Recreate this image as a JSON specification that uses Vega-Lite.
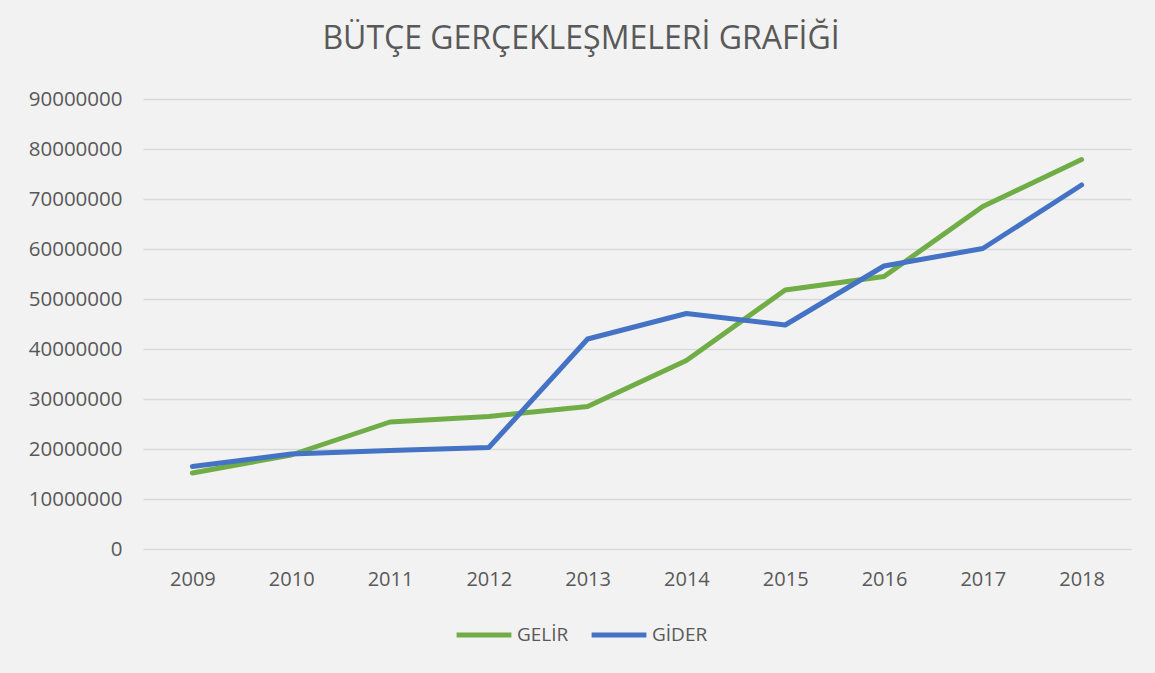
{
  "$schema": "https://vega.github.io/schema/vega-lite/v6.json",
  "autosize": "none",
  "width": 988,
  "height": 450,
  "padding": {"left": 143, "top": 99, "right": 24, "bottom": 124},
  "background": "#f2f2f2",
  "title": {
    "text": "BÜTÇE GERÇEKLEŞMELERİ GRAFİĞİ",
    "font": "Open Sans",
    "fontSize": 32,
    "fontWeight": "normal",
    "color": "#595959",
    "frame": "group",
    "anchor": "middle",
    "dx": -56,
    "baseline": "alphabetic",
    "offset": 8
  },
  "data": {
    "values": [
      {"yil": "2009", "seri": "GELİR", "deger": 15200000},
      {"yil": "2010", "seri": "GELİR", "deger": 18800000},
      {"yil": "2011", "seri": "GELİR", "deger": 25400000},
      {"yil": "2012", "seri": "GELİR", "deger": 26500000},
      {"yil": "2013", "seri": "GELİR", "deger": 28500000},
      {"yil": "2014", "seri": "GELİR", "deger": 37700000},
      {"yil": "2015", "seri": "GELİR", "deger": 51800000},
      {"yil": "2016", "seri": "GELİR", "deger": 54500000},
      {"yil": "2017", "seri": "GELİR", "deger": 68500000},
      {"yil": "2018", "seri": "GELİR", "deger": 77900000},
      {"yil": "2009", "seri": "GİDER", "deger": 16500000},
      {"yil": "2010", "seri": "GİDER", "deger": 19000000},
      {"yil": "2011", "seri": "GİDER", "deger": 19700000},
      {"yil": "2012", "seri": "GİDER", "deger": 20300000},
      {"yil": "2013", "seri": "GİDER", "deger": 42000000},
      {"yil": "2014", "seri": "GİDER", "deger": 47100000},
      {"yil": "2015", "seri": "GİDER", "deger": 44800000},
      {"yil": "2016", "seri": "GİDER", "deger": 56600000},
      {"yil": "2017", "seri": "GİDER", "deger": 60100000},
      {"yil": "2018", "seri": "GİDER", "deger": 72800000}
    ]
  },
  "mark": {"type": "line", "strokeWidth": 5, "strokeCap": "round", "strokeJoin": "round"},
  "encoding": {
    "x": {
      "field": "yil",
      "type": "ordinal",
      "scale": {"type": "point", "padding": 0.5},
      "axis": {
        "title": null,
        "labelAngle": 0,
        "domain": false,
        "ticks": false,
        "grid": false,
        "labelFont": "Open Sans",
        "labelFontSize": 20,
        "labelColor": "#595959",
        "labelPadding": 20
      }
    },
    "y": {
      "field": "deger",
      "type": "quantitative",
      "scale": {"domain": [0, 90000000], "nice": false},
      "axis": {
        "title": null,
        "values": [0, 10000000, 20000000, 30000000, 40000000, 50000000, 60000000, 70000000, 80000000, 90000000],
        "format": "d",
        "domain": false,
        "ticks": false,
        "grid": true,
        "gridColor": "#d9d9d9",
        "gridWidth": 1.3,
        "labelFont": "Open Sans",
        "labelFontSize": 20.5,
        "labelColor": "#595959",
        "labelPadding": 21
      }
    },
    "color": {
      "field": "seri",
      "type": "nominal",
      "scale": {"domain": ["GELİR", "GİDER"], "range": ["#70ad47", "#4472c4"]},
      "legend": {
        "title": null,
        "orient": "none",
        "direction": "horizontal",
        "legendX": 311,
        "legendY": 506,
        "symbolType": "stroke",
        "symbolSize": 3000,
        "symbolStrokeWidth": 5,
        "labelFont": "Open Sans",
        "labelFontSize": 19,
        "labelColor": "#595959",
        "labelOffset": 3,
        "columnPadding": 12
      }
    }
  },
  "config": {"view": {"stroke": null}}
}
